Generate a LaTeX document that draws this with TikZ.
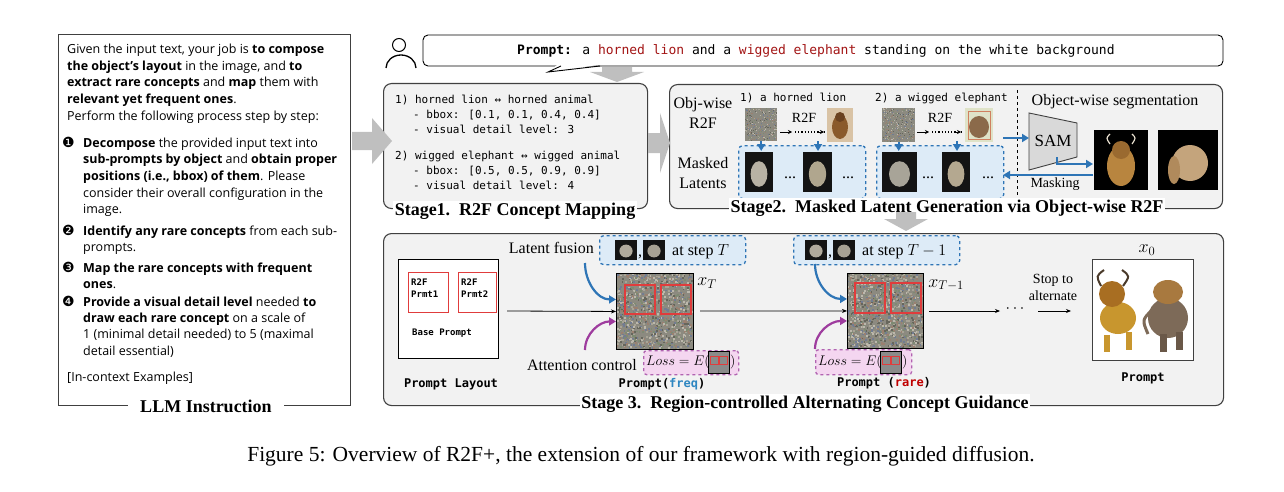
\documentclass[tikz,border=0pt]{standalone}
\usepackage{fix-cm}
\usepackage[no-math]{fontspec}
\setmainfont{Liberation Serif}
\newfontfamily\llmf{Open Sans}
\newfontfamily\monof{DejaVu Sans Mono}
\newfontfamily\symf{DejaVu Sans}
\usetikzlibrary{arrows.meta}
\definecolor{boxgray}{HTML}{F2F2F2}
\definecolor{bordergray}{HTML}{404040}
\definecolor{arrowgray}{HTML}{BFBFBF}
\definecolor{myblue}{HTML}{2E75B6}
\definecolor{lightblue}{HTML}{DDEBF7}
\definecolor{mypurple}{HTML}{9E3C9E}
\definecolor{lightpink}{HTML}{F4D6F0}
\definecolor{darkred}{HTML}{A31515}
\definecolor{boxred}{HTML}{E03C3C}
\definecolor{freqblue}{HTML}{2E86C1}
\definecolor{rarered}{HTML}{C00000}
\definecolor{nzbase}{HTML}{8C8A80}
\definecolor{nz0}{HTML}{66665C}
\definecolor{nz1}{HTML}{A8A496}
\definecolor{nz2}{HTML}{7E8A72}
\definecolor{nz3}{HTML}{9A8070}
\definecolor{nz4}{HTML}{727C92}
\definecolor{nz5}{HTML}{BCB8AC}
\definecolor{lionbg}{HTML}{D9C3A5}
\definecolor{lionbr}{HTML}{8A5A2B}
\definecolor{liondk}{HTML}{6B4220}
\definecolor{elebg}{HTML}{DFE3C8}
\definecolor{elebr}{HTML}{8B6A4A}
\definecolor{eleln}{HTML}{D08060}
\definecolor{blobA}{HTML}{B8B2A4}
\definecolor{blobB}{HTML}{B0A68E}
\definecolor{blobC}{HTML}{A8A498}
\definecolor{blobD}{HTML}{B4A890}
\definecolor{samgr}{HTML}{D9D9D9}
\definecolor{lcg}{HTML}{B8853F}
\definecolor{lcd}{HTML}{9A6A30}
\definecolor{horn}{HTML}{E8E0D0}
\definecolor{ecg}{HTML}{C4A47C}
\definecolor{ecd}{HTML}{B08A5C}
\definecolor{olg}{HTML}{C8962E}
\definecolor{old}{HTML}{A86E22}
\definecolor{ohorn}{HTML}{4A3A2A}
\definecolor{oel}{HTML}{7D6A58}
\definecolor{oeh}{HTML}{A8793F}
\definecolor{oleg}{HTML}{6A5848}
\definecolor{miA}{HTML}{B0AA9C}
\definecolor{miB}{HTML}{A8A294}
\definecolor{lossgr}{HTML}{8A8A8A}
\newcommand\noisepatch[6]{%
  \fill[nzbase] (#1,#2) rectangle ++(#3,#4);
  \foreach \k in {1,...,#5}{%
    \pgfmathsetmacro\nx{#1+rnd*(#3-#6)}%
    \pgfmathsetmacro\ny{#2+rnd*(#4-#6)}%
    \pgfmathtruncatemacro\nc{mod(\k,6)}%
    \fill[nz\nc] (\nx,\ny) rectangle ++(#6,#6);
  }}
\newcommand\darkimg[5]{%
  \fill[black!92] (#1,#2) rectangle ++(#3,#4);
  \pgfmathsetmacro\cxx{#1+0.5*#3}\pgfmathsetmacro\cyy{#2+0.55*#4}%
  \pgfmathsetmacro\rxx{0.3*#3}\pgfmathsetmacro\ryy{0.32*#4}%
  \fill[#5] (\cxx,\cyy) ellipse[x radius=\rxx pt, y radius=\ryy pt];}
\tikzset{
  stagebox/.style={draw=bordergray, fill=boxgray, rounded corners=8pt, line width=1.1pt, anchor=north west, inner sep=0pt},
  stagetitle/.style={font=\fontsize{18}{20}\selectfont\bfseries, fill=white, inner sep=1.5pt},
  llm/.style={font=\llmf\fontsize{12.5}{15}\selectfont, inner sep=0pt, anchor=base west},
  bul/.style={font=\symf\fontsize{14}{16}\selectfont, anchor=base west, inner sep=0pt},
  mono/.style={font=\monof\fontsize{11}{13}\selectfont, inner sep=0pt, anchor=base west},
  monob/.style={font=\monof\bfseries\fontsize{12}{14}\selectfont, inner sep=0pt},
  serif/.style={font=\fontsize{16}{18}\selectfont, inner sep=0pt},
  serifs/.style={font=\fontsize{14}{16}\selectfont, inner sep=0pt},
  bluearrow/.style={draw=myblue, line width=2.2pt, -{Triangle[length=7pt,width=8pt]}},
  purplearrow/.style={draw=mypurple, line width=2.2pt, -{Triangle[length=7pt,width=8pt]}},
  thinarrow/.style={draw=black, line width=0.8pt, -{Stealth[length=5pt,width=4pt]}},
  grayarrow/.style={fill=arrowgray},
  bluedash/.style={draw=myblue, dashed, line width=1.3pt, fill=lightblue, rounded corners=4pt, anchor=north west, inner sep=0pt},
  pinkdash/.style={draw=mypurple!80, dashed, line width=1.3pt, fill=lightpink, rounded corners=3pt, anchor=north west, inner sep=0pt},
  redbox/.style={draw=boxred, line width=1.2pt},
  imgbox/.style={anchor=north west, inner sep=0pt},
}
\begin{document}
\begin{tikzpicture}[x=1pt,y=-1pt]
\useasboundingbox (0,0) rectangle (1284,492);
\pgfmathsetseed{4242}

%% ---------- LLM instruction ----------
\node[draw=bordergray, line width=0.9pt, anchor=north west, minimum width=292pt, minimum height=371pt, inner sep=0pt] (llmbox) at (58,34) {};
\node[llm] (i1) at (67,54) {Given the input text, your job is \textbf{to compose}};
\node[llm] (i2) at (67,71) {\textbf{the object’s layout} in the image, and \textbf{to}};
\node[llm] (i3) at (67,87) {\textbf{extract rare concepts} and \textbf{map} them with};
\node[llm] (i4) at (67,104) {\textbf{relevant yet frequent ones}.};
\node[llm] (i5) at (67,121) {Perform the following process step by step:};
\node[bul] (b1) at (62,147) {❶};
\node[llm] (a1) at (83,147) {\textbf{Decompose} the provided input text into};
\node[llm] (a2) at (83,163) {\textbf{sub-prompts by object} and \textbf{obtain proper}};
\node[llm] (a3) at (83,180) {\textbf{positions (i.e., bbox) of them}. Please};
\node[llm] (a4) at (83,197) {consider their overall configuration in the};
\node[llm] (a5) at (83,213) {image.};
\node[bul] (b2) at (62,235) {❷};
\node[llm] (c1) at (83,235) {\textbf{Identify any rare concepts} from each sub-};
\node[llm] (c2) at (83,251) {prompts.};
\node[bul] (b3) at (62,272) {❸};
\node[llm] (d1) at (83,272) {\textbf{Map the rare concepts with frequent}};
\node[llm] (d2) at (83,288) {\textbf{ones}.};
\node[bul] (b4) at (62,306) {❹};
\node[llm] (e1) at (83,306) {\textbf{Provide a visual detail level} needed \textbf{to}};
\node[llm] (e2) at (83,322) {\textbf{draw each rare concept} on a scale of};
\node[llm] (e3) at (83,338) {1 (minimal detail needed) to 5 (maximal};
\node[llm] (e4) at (83,355) {detail essential)};
\node[llm] (f1) at (67,381) {[In-context Examples]};
\node[stagetitle, inner xsep=12pt] (t0) at (206,406) {LLM Instruction};

%% ---------- user prompt ----------
\draw[line width=1pt] (399,45) circle[radius=6.5pt];
\draw[line width=1.3pt] (386,68) arc[start angle=180, end angle=0, x radius=15pt, y radius=13pt];
\node[draw=black, line width=0.9pt, rounded corners=5pt, minimum width=800pt, minimum height=31pt, fill=white, inner sep=0pt] (bubble) at (823,50.5) {};
\fill[white] (558,64.3) -- (603,64.3) -- (548,72) -- cycle;
\draw[line width=0.9pt] (561,66) -- (548,72) -- (600,66);
\node[font=\monof\fontsize{13}{15}\selectfont, anchor=base west, inner sep=0pt] (ptext) at (517,55) {\textbf{Prompt:} a \textcolor{darkred}{horned lion} and a \textcolor{darkred}{wigged elephant} standing on the white background};
\fill[grayarrow] (602,67) -- (632,67) -- (632,72) -- (644,72) -- (617,82) -- (590,72) -- (602,72) -- cycle;

%% ---------- Stage 1 ----------
\node[stagebox, minimum width=264pt, minimum height=125pt] (s1) at (383,83) {};
\node[mono] (m1) at (395,104) {1) horned lion ↔ horned animal};
\node[mono] (m2) at (413,119) {- bbox: [0.1, 0.1, 0.4, 0.4]};
\node[mono] (m3) at (413,134) {- visual detail level: 3};
\node[mono] (m4) at (395,159) {2) wigged elephant ↔ wigged animal};
\node[mono] (m5) at (413,174) {- bbox: [0.5, 0.5, 0.9, 0.9]};
\node[mono] (m6) at (413,189) {- visual detail level: 4};
\node[stagetitle] (t1) at (515,211) {Stage1.\ \ R2F Concept Mapping};
\fill[grayarrow] (352,132) -- (372,132) -- (372,118) -- (392,141) -- (372,164) -- (372,150) -- (352,150) -- cycle;

%% ---------- Stage 2 ----------
\node[stagebox, minimum width=553pt, minimum height=124pt] (s2) at (669,84) {};
\fill[grayarrow] (648,133) -- (660,133) -- (660,113) -- (670,143) -- (660,173) -- (660,153) -- (648,153) -- cycle;
\node[serif] (ow1) at (703,105) {Obj-wise};
\node[serif] (ow2) at (703,123) {R2F};
\node[serif] (ml1) at (703,163) {Masked};
\node[serif] (ml2) at (703,183) {Latents};
\node[mono] (sp1) at (740,102) {1) a horned lion};
\node[mono] (sp2) at (875,102) {2) a wigged elephant};
% noise latents
\noisepatch{745}{108}{32}{33}{300}{1}
\node[imgbox, minimum width=32pt, minimum height=33pt] (na) at (745,108) {};
\noisepatch{882}{108}{33}{34}{300}{1}
\node[imgbox, minimum width=33pt, minimum height=34pt] (nb) at (882,108) {};
% lion photo
\fill[lionbg] (827,108) rectangle (853,142);
\fill[lionbr] (840,127) ellipse[x radius=8pt, y radius=12pt];
\fill[liondk] (840,117) circle[radius=5pt];
\node[imgbox, minimum width=26pt, minimum height=34pt] (lp) at (827,108) {};
% elephant photo
\fill[elebg] (965,108) rectangle (993,142);
\fill[elebr] (979,127) ellipse[x radius=10pt, y radius=11pt];
\draw[eleln, line width=0.5pt] (968,111) rectangle (990,139);
\node[imgbox, minimum width=28pt, minimum height=34pt] (ep) at (965,108) {};
% R2F dotted arrows
\node[font=\fontsize{14}{16}\selectfont, inner sep=0pt] (r2fa) at (804,118) {R2F};
\node[font=\fontsize{14}{16}\selectfont, inner sep=0pt] (r2fb) at (940,118) {R2F};
\coordinate (da1) at (780,132); \coordinate (da2) at (792,132); \coordinate (da3) at (795,132); \coordinate (da4) at (824,132);
\draw[line width=0.8pt, -{Stealth[length=4pt,width=4pt]}] (da1) -- (da2);
\draw[line width=1.2pt, dotted] (da3) -- (da4);
\draw[line width=0.8pt, -{Stealth[length=4pt,width=4pt]}] (818,132) -- (da4);
\coordinate (db1) at (917,132); \coordinate (db2) at (929,132); \coordinate (db3) at (932,132); \coordinate (db4) at (961,132);
\draw[line width=0.8pt, -{Stealth[length=4pt,width=4pt]}] (db1) -- (db2);
\draw[line width=1.2pt, dotted] (db3) -- (db4);
\draw[line width=0.8pt, -{Stealth[length=4pt,width=4pt]}] (955,132) -- (db4);
% masked latent boxes
\node[bluedash, minimum width=127pt, minimum height=53pt] (mb1) at (738,145) {};
\node[bluedash, minimum width=127pt, minimum height=53pt] (mb2) at (876,145) {};
\darkimg{745}{152}{28}{40}{blobA}
\darkimg{803}{152}{29}{40}{blobB}
\darkimg{882}{152}{35}{40}{blobC}
\darkimg{942}{152}{28}{40}{blobD}
\node[serif, anchor=base] (dd1) at (790,178) {...};
\node[serif, anchor=base] (dd2) at (848,178) {...};
\node[serif, anchor=base] (dd3) at (928,178) {...};
\node[serif, anchor=base] (dd4) at (988,178) {...};
\coordinate (ar2) at (818,141);
\coordinate (ar4) at (957,141);
\draw[bluearrow] (na.south) -- (na.south |- mb1.north) -- ++(0,6);
\draw[bluearrow] (ar2) -- (ar2 |- mb1.north) -- ++(0,6);
\draw[bluearrow] (nb.south) -- (nb.south |- mb2.north) -- ++(0,6);
\draw[bluearrow] (ar4) -- (ar4 |- mb2.north) -- ++(0,6);
% segmentation
\draw[dashed, line width=0.9pt] (1017,90) -- (1017,203);
\node[serif] (ows) at (1115,102) {Object-wise segmentation};
\draw[fill=samgr, draw=bordergray, line width=0.9pt] (1029,113) -- (1077,123) -- (1077,157) -- (1029,170) -- cycle;
\node[font=\fontsize{17}{19}\selectfont, inner sep=0pt] (sam) at (1053,141) {SAM};
\coordinate (es) at (1003,138); \coordinate (samin) at (1029,138);
\draw[bluearrow] (es) -- (samin);
% cut-outs
\fill[black] (1094,130) rectangle (1148,190);
\fill[lcg] (1121,166) ellipse[x radius=14pt, y radius=20pt];
\fill[lcd] (1121,150) circle[radius=9pt];
\draw[horn, line width=1.2pt] (1110,144) .. controls (1106,138) .. (1110,134);
\draw[horn, line width=1.2pt] (1132,144) .. controls (1136,138) .. (1132,134);
\node[imgbox, minimum width=54pt, minimum height=60pt] (lc) at (1094,130) {};
\fill[black] (1158,130) rectangle (1218,190);
\fill[ecg] (1190,163) ellipse[x radius=18pt, y radius=18pt];
\fill[ecd] (1174,170) ellipse[x radius=6pt, y radius=14pt];
\node[imgbox, minimum width=60pt, minimum height=60pt] (ec) at (1158,130) {};
\coordinate (sb) at (1057,157); \coordinate (lcin) at (1093,164);
\draw[bluearrow] (sb) |- (lcin);
\coordinate (mk1) at (1093,175); \coordinate (mk2) at (1003,175);
\draw[bluearrow] (mk1) -- (mk2);
\node[serifs] (mask) at (1055,184) {Masking};
\node[stagetitle] (t2) at (947,208) {Stage2.\ \ Masked Latent Generation via Object-wise R2F};
\fill[grayarrow] (896,212) -- (916,212) -- (916,219) -- (928,219) -- (906,231) -- (884,219) -- (896,219) -- cycle;

%% ---------- Stage 3 ----------
\node[stagebox, minimum width=840pt, minimum height=172pt] (s3) at (383,233) {};
% prompt layout
\node[draw=black, fill=white, line width=0.9pt, anchor=north west, minimum width=100pt, minimum height=99pt, inner sep=0pt] (pl) at (398,259) {};
\node[redbox, anchor=north west, minimum width=40pt, minimum height=40pt, inner sep=0pt] (rp1) at (408,272) {};
\node[redbox, anchor=north west, minimum width=38pt, minimum height=40pt, inner sep=0pt] (rp2) at (458,272) {};
\node[font=\monof\bfseries\fontsize{9}{11}\selectfont, anchor=base west, inner sep=0pt] (rt1) at (411,285) {R2F};
\node[font=\monof\bfseries\fontsize{9}{11}\selectfont, anchor=base west, inner sep=0pt] (rt2) at (411,297) {Prmt1};
\node[font=\monof\bfseries\fontsize{9}{11}\selectfont, anchor=base west, inner sep=0pt] (rt3) at (461,285) {R2F};
\node[font=\monof\bfseries\fontsize{9}{11}\selectfont, anchor=base west, inner sep=0pt] (rt4) at (461,297) {Prmt2};
\node[font=\monof\bfseries\fontsize{9}{11}\selectfont, anchor=base west, inner sep=0pt] (bp) at (412,335) {Base Prompt};
\node[monob] (plt) at (451,384) {Prompt Layout};
% noise x_T
\noisepatch{616}{273}{77}{76}{1100}{1.8}
\node[imgbox, draw=black, line width=0.9pt, minimum width=77pt, minimum height=76pt] (n3a) at (616,273) {};
\draw[redbox] (625,285) rectangle (655,314);
\draw[redbox] (661,285) rectangle (691,314);
\node[font=\fontsize{18}{20}\selectfont, inner sep=0pt] (xt) at (707,283) {$x_T$};
% noise x_{T-1}
\noisepatch{847}{273}{76}{75}{1100}{1.8}
\node[imgbox, draw=black, line width=0.9pt, minimum width=76pt, minimum height=75pt] (n3b) at (847,273) {};
\draw[redbox] (855,283) rectangle (885,313);
\draw[redbox] (891,283) rectangle (921,313);
\node[font=\fontsize{18}{20}\selectfont, inner sep=0pt] (xt1) at (946,285) {$x_{T-1}$};
% horizontal flow
\coordinate (h0) at (507,311);
\draw[thinarrow] (h0) -- (n3a.west);
\coordinate (h1) at (700,311);
\draw[thinarrow] (h1) -- (n3b.west);
\coordinate (h2) at (929,311); \coordinate (h3) at (1000,311);
\draw[thinarrow] (h2) -- (h3);
\node[font=\fontsize{16}{18}\selectfont, inner sep=0pt] (cd) at (1015,309) {$\cdots$};
\coordinate (h4) at (1038,311); \coordinate (h5) at (1071,311);
\draw[thinarrow] (h4) -- (h5);
\node[serifs, align=center, font=\fontsize{14}{17}\selectfont] (stop) at (1053,287) {Stop to\\alternate};
% output
\node[imgbox, draw=bordergray, fill=white, line width=1pt, minimum width=101pt, minimum height=101pt] (out) at (1092,259) {};
\fill[olg] (1118,318) ellipse[x radius=18pt, y radius=16pt];
\fill[old] (1112,294) circle[radius=13pt];
\fill[olg] (1104,335) rectangle (1110,352);
\fill[olg] (1126,332) rectangle (1132,350);
\draw[ohorn, line width=2pt] (1101,286) .. controls (1096,276) .. (1104,270);
\draw[ohorn, line width=2pt] (1123,286) .. controls (1130,276) .. (1122,270);
\fill[oel] (1168,318) ellipse[x radius=20pt, y radius=20pt];
\fill[oeh] (1168,292) ellipse[x radius=15pt, y radius=12pt];
\draw[oel, line width=3pt] (1152,310) .. controls (1142,320) .. (1148,334);
\fill[oleg] (1160,334) rectangle (1167,352);
\fill[oleg] (1176,332) rectangle (1183,350);
\node[font=\fontsize{18}{20}\selectfont, inner sep=0pt] (x0) at (1147,250) {$x_0$};
\node[monob] (pout) at (1143,378) {Prompt};
% latent fusion boxes
\node[serif, anchor=base east] (lf) at (594,253) {Latent fusion};
\node[bluedash, minimum width=146pt, minimum height=29pt] (lb1) at (599,235) {};
\darkimg{615}{240}{22}{20}{miA}
\node[serif, anchor=base] (cm1) at (640,256) {,};
\darkimg{643}{240}{22}{20}{miB}
\node[serif, anchor=base west] (st1) at (672,255) {at step $T$};
\node[bluedash, minimum width=166pt, minimum height=29pt] (lb2) at (793,235) {};
\darkimg{805}{240}{22}{20}{miA}
\node[serif, anchor=base] (cm2) at (830,256) {,};
\darkimg{833}{240}{22}{20}{miB}
\node[serif, anchor=base west] (st2) at (862,255) {at step $T-1$};
\coordinate (bl1) at (585,263);
\draw[bluearrow] (bl1) to[out=-90,in=180] ([yshift=12pt]n3a.west);
\coordinate (bl2) at (815,264);
\draw[bluearrow] (bl2) to[out=-90,in=180] ([yshift=12pt]n3b.west);
% attention control
\node[serif, anchor=base east] (ac) at (637,370) {Attention control};
\node[pinkdash, minimum width=95pt, minimum height=24pt] (lo1) at (643,350) {};
\node[font=\fontsize{14}{16}\selectfont, anchor=west, inner sep=0pt] (lt1) at (646,362) {$Loss=E($};
\fill[lossgr] (708,351) rectangle (729,373);
\draw[boxred, line width=1pt] (710,356) rectangle (718,364);
\draw[boxred, line width=1pt] (719,356) rectangle (727,364);
\draw[black, line width=0.6pt] (708,351) rectangle (729,373);
\node[font=\fontsize{14}{16}\selectfont, anchor=west, inner sep=0pt] (lr1) at (730,362) {$)$};
\node[pinkdash, minimum width=96pt, minimum height=25pt] (lo2) at (815,349) {};
\node[font=\fontsize{14}{16}\selectfont, anchor=west, inner sep=0pt] (lt2) at (818,362) {$Loss=E($};
\fill[lossgr] (880,351) rectangle (901,373);
\draw[boxred, line width=1pt] (882,356) rectangle (890,364);
\draw[boxred, line width=1pt] (891,356) rectangle (899,364);
\draw[black, line width=0.6pt] (880,351) rectangle (901,373);
\node[font=\fontsize{14}{16}\selectfont, anchor=west, inner sep=0pt] (lr2) at (902,362) {$)$};
\coordinate (pu1) at (585,350);
\draw[purplearrow] (pu1) to[out=90,in=180] ([yshift=-10pt]n3a.west);
\draw[purplearrow] (lo2.north west) to[out=90,in=180] ([yshift=-10pt]n3b.west);
\node[monob] (pf) at (662,384) {Prompt(\textcolor{freqblue}{freq})};
\node[monob] (pr) at (884,383) {Prompt (\textcolor{rarered}{rare})};
\node[stagetitle] (t3) at (805,404) {Stage 3.\ \ Region-controlled Alternating Concept Guidance};

%% ---------- caption ----------
\node[font=\fontsize{21.5}{24}\selectfont, inner sep=0pt] (cap) at (641,456) {Figure 5: Overview of R2F+, the extension of our framework with region-guided diffusion.};
\end{tikzpicture}
\end{document}
